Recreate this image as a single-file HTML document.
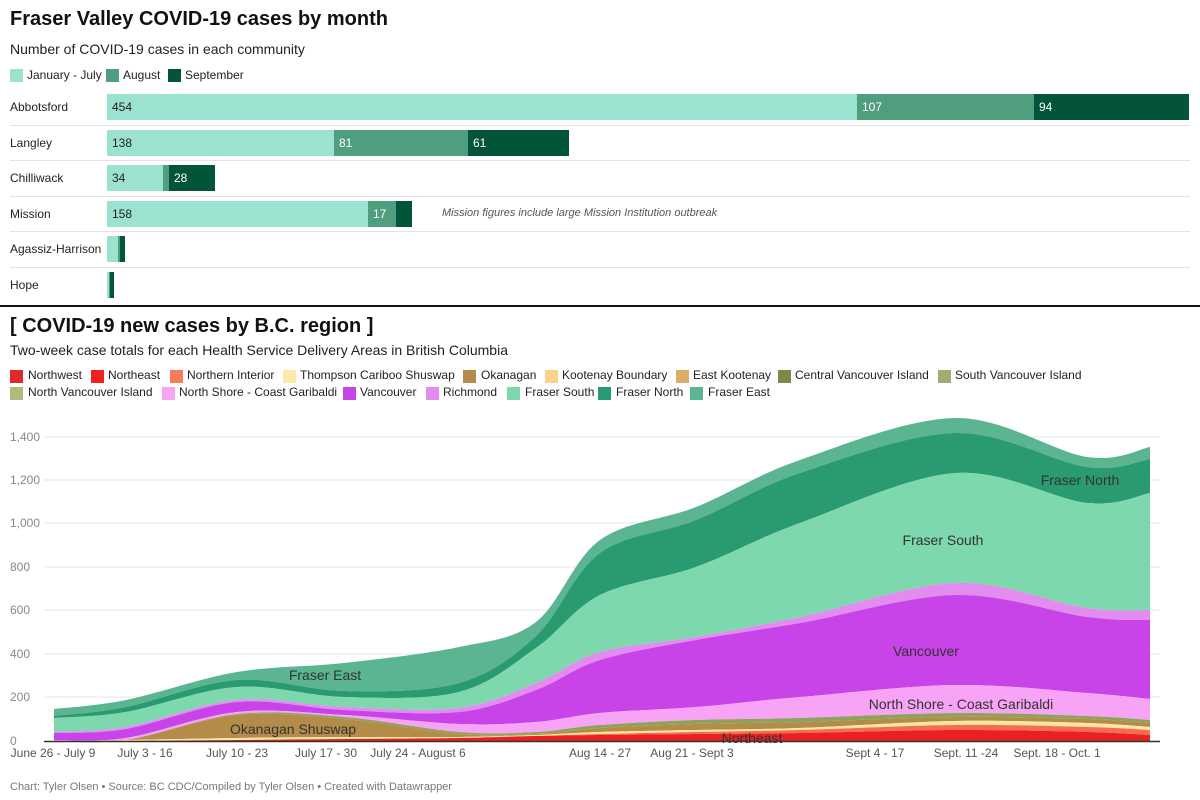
<!DOCTYPE html>
<html><head><meta charset="utf-8"><style>
body{margin:0;width:1200px;height:800px;background:#fff;font-family:"Liberation Sans",sans-serif;position:relative;overflow:hidden;color:#222}
.a{position:absolute;white-space:nowrap}
.t{font-weight:bold;font-size:20px;color:#111}
.s{font-size:14px;color:#222}
.lg{font-size:12px;color:#222}
.sq{position:absolute;width:13px;height:13px}
.rl{font-size:12px;color:#222}
.bar{position:absolute;height:26px}
.bv{position:absolute;font-size:12px;top:6px}
</style></head><body>
<div class="a t" style="left:10px;top:8px">Fraser Valley COVID-19 cases by month</div>
<div class="a s" style="left:10px;top:41px">Number of COVID-19 cases in each community</div>
<div class="sq" style="left:10px;top:69px;background:#9be3d0"></div><div class="a lg" style="left:27px;top:68px">January - July</div>
<div class="sq" style="left:106px;top:69px;background:#4f9e7e"></div><div class="a lg" style="left:123px;top:68px">August</div>
<div class="sq" style="left:168px;top:69px;background:#02553a"></div><div class="a lg" style="left:185px;top:68px">September</div>

<div id="bars"></div>
<div class="a" style="left:0;top:305px;width:1200px;height:2px;background:#111"></div>

<div class="a t" style="left:10px;top:315px">[ COVID-19 new cases by B.C. region ]</div>
<div class="a s" style="left:10px;top:342px">Two-week case totals for each Health Service Delivery Areas in British Columbia</div>
<div id="leg"></div>

<svg class="a" style="left:0;top:0" width="1200" height="800" id="ch"></svg>
<div class="a" style="left:10px;top:781px;font-size:11px;color:#777">Chart: Tyler Olsen • Source: BC CDC/Compiled by Tyler Olsen • Created with Datawrapper</div>
<script>
var rows=[["Abbotsford",[[107,857,"454"],[857,1034,"107"],[1034,1189,"94"]]],
["Langley",[[107,334,"138"],[334,468,"81"],[468,569,"61"]]],
["Chilliwack",[[107,163,"34"],[163,169,""],[169,215,"28"]]],
["Mission",[[107,368,"158"],[368,396,"17"],[396,412,""]]],
["Agassiz-Harrison",[[107,118,""],[118,120,""],[120,125,""]]],
["Hope",[[107,109,""],[109,110,""],[110,114,""]]]];
var cols=["#9be3d0","#4f9e7e","#02553a"],tc=["#222","#fff","#fff"];
var h="";
rows.forEach(function(r,i){var y=94+i*35.6;
h+='<div class="a rl" style="left:10px;top:'+(y+6)+'px">'+r[0]+'</div>';
if(i<5)h+='<div class="a" style="left:10px;top:'+(y+30.5)+'px;width:1180px;height:1px;background:#e4e4e4"></div>';
r[1].forEach(function(s,j){h+='<div class="bar" style="left:'+s[0]+'px;top:'+y+'px;width:'+(s[1]-s[0])+'px;background:'+cols[j]+'">'+(s[2]?'<span class="bv" style="left:5px;color:'+tc[j]+'">'+s[2]+'</span>':'')+'</div>';});});
h+='<div class="a" style="left:442px;top:207px;font-size:11px;font-style:italic;color:#555">Mission figures include large Mission Institution outbreak</div>';
document.getElementById("bars").innerHTML=h;
var L=[[10,28,376,"#e02a2a","Northwest"],[91,108,376,"#f42020","Northeast"],[170,187,376,"#f87a5a","Northern Interior"],[283,300,376,"#fde9a8","Thompson Cariboo Shuswap"],[463,481,376,"#b48c4a","Okanagan"],[545,562,376,"#fcd38a","Kootenay Boundary"],[676,693,376,"#d9ad6a","East Kootenay"],[778,795,376,"#7a8a48","Central Vancouver Island"],[938,955,376,"#9fae70","South Vancouver Island"],
[10,28,393,"#aebb7a","North Vancouver Island"],[162,179,393,"#f7a3f6","North Shore - Coast Garibaldi"],[343,360,393,"#c844e8","Vancouver"],[426,443,393,"#e28cf0","Richmond"],[507,525,393,"#7dd8ae","Fraser South"],[598,616,393,"#2a9a70","Fraser North"],[690,708,393,"#5bb590","Fraser East"]];
h="";L.forEach(function(l){h+='<div class="sq" style="left:'+l[0]+'px;top:'+(l[2]-6)+'px;background:'+l[3]+'"></div><div class="a lg" style="left:'+l[1]+'px;top:'+(l[2]-8)+'px">'+l[4]+'</div>';});
document.getElementById("leg").innerHTML=h;
var X=[54,126,237,344,459,536,600,696,800,956,1087,1150];
var B={
top:[709,700,672,663,647,622,540,507,460,418,457,447],
fefn:[716,707,680,691,683,636,553,520,473,433,467,459],
fnfs:[718,712,687,697,692,648,595,567,523,473,503,493],
fsric:[732,727,700,707,708,683,652,637,617,583,608,610],
ricv:[733,729,702,710,712,690,660,640,623,595,617,620],
vns:[740,738,712,715,724,722,713,707,697,685,693,699],
nso:[741,740,714,717,732,732,725,720,718,713,716,720],
ob:[741,740,715,719,734,734,728,724,722,717,719,723],
yt:[741,740,738,737,737,735,732,730,728,721,723,727],
ot:[741,741,740,739,738,736,734,732,730,725,727,730],
rt:[741,741,740,739,738,736,735,734,733,730,732,735],
base:[741,741,741,741,741,741,741,741,741,741,741,741]};
function seg(P,rev){var p=P.map(function(y,i){return[X[i],y]});if(rev)p.reverse();var s="";
for(var i=0;i<p.length-1;i++){var p0=p[i-1]||p[i],p1=p[i],p2=p[i+1],p3=p[i+2]||p2;
var c1=[p1[0]+(p2[0]-p0[0])/6,p1[1]+(p2[1]-p0[1])/6],c2=[p2[0]-(p3[0]-p1[0])/6,p2[1]-(p3[1]-p1[1])/6];
s+=" C"+c1+" "+c2+" "+p2;}return s;}
function area(u,l,c){var U=B[u],Lw=B[l];return '<path fill="'+c+'" d="M'+X[0]+','+U[0]+seg(U)+' L'+X[X.length-1]+','+Lw[Lw.length-1]+seg(Lw,1)+'Z"/>';}
var s="";
var g=[[437,"1,400"],[480,"1,200"],[523,"1,000"],[567,"800"],[610,"600"],[654,"400"],[697,"200"],[741,"0"]];
g.forEach(function(a){if(a[1]!="0")s+='<line x1="44" x2="1160" y1="'+a[0]+'" y2="'+a[0]+'" stroke="#e6e6e6"/>';
s+='<text x="10" y="'+(a[0]+4)+'" font-size="12" fill="#888" font-family="Liberation Sans">'+a[1]+'</text>';});
s+=area("top","fefn","#5bb590")+area("fefn","fnfs","#2a9a70")+area("fnfs","fsric","#7dd8ae")+area("fsric","ricv","#e28cf0")+area("ricv","vns","#c844e8")+area("vns","nso","#f7a3f6")+area("nso","ob","#8ea35a")+area("ob","yt","#b48c4a")+area("yt","ot","#fde6a0")+area("ot","rt","#f76b4f")+area("rt","base","#e82222");
s+='<line x1="44" x2="1160" y1="741.5" y2="741.5" stroke="#333" stroke-width="1.5"/>';
var xl=[[53,"June 26 - July 9"],[145,"July 3 - 16"],[237,"July 10 - 23"],[326,"July 17 - 30"],[418,"July 24 - August 6"],[600,"Aug 14 - 27"],[692,"Aug 21 - Sept 3"],[875,"Sept 4 - 17"],[966,"Sept. 11 -24"],[1057,"Sept. 18 - Oct. 1"]];
xl.forEach(function(a){s+='<text x="'+a[0]+'" y="757" font-size="12" fill="#555" text-anchor="middle" font-family="Liberation Sans">'+a[1]+'</text>';});
var lab=[[325,680,"Fraser East"],[293,734,"Okanagan Shuswap"],[1080,485,"Fraser North"],[943,545,"Fraser South"],[926,656,"Vancouver"],[961,709,"North Shore - Coast Garibaldi"],[752,743,"Northeast"]];
lab.forEach(function(a){s+='<text x="'+a[0]+'" y="'+a[1]+'" font-size="14" fill="#333" text-anchor="middle" font-family="Liberation Sans">'+a[2]+'</text>';});
document.getElementById("ch").innerHTML=s;
</script>
</body></html>
